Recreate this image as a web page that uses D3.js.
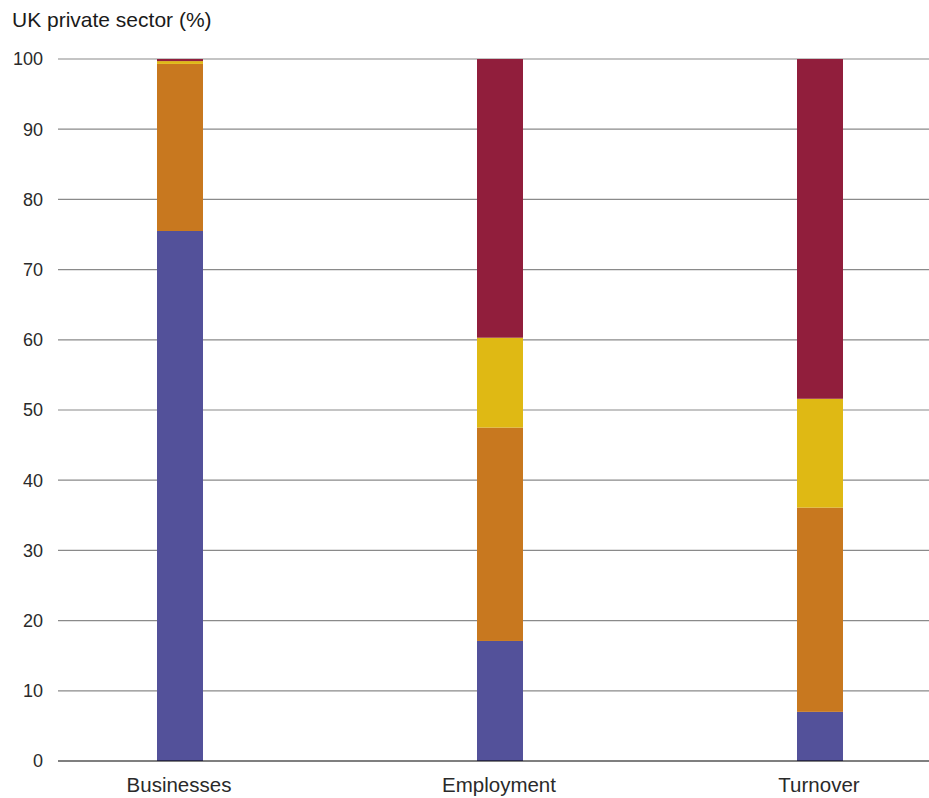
<!DOCTYPE html>
<html><head><meta charset="utf-8">
<script src="https://cdn.jsdelivr.net/npm/d3@7"></script>
<style>body{margin:0;background:#fff;} text{font-family:"Liberation Sans",Arial,sans-serif;}</style>
</head><body>
<svg id="c" width="929" height="798"></svg>
<script>
const categories = ["Businesses", "Employment", "Turnover"];
const seriesNames = ["Micro", "Small", "Medium", "Large"];
const micro  = [75.5, 17.1, 7.0];
const small  = [23.8, 30.4, 29.1];
const medium = [0.4, 12.8, 15.5];
const large  = [0.3, 39.7, 48.4];
const colors = ["#53519a", "#c8781f", "#dfb914", "#911e3c"];
const yTicks = [0,10,20,30,40,50,60,70,80,90,100];

const svg = d3.select("#c");
const y = d3.scaleLinear().domain([0,100]).range([761,59]);
const x = d3.scalePoint().domain(categories).range([180,820]);
const barW = 46;

// gridlines
svg.append("g").selectAll("line").data(yTicks.filter(d=>d>0)).join("line")
  .attr("x1",58).attr("x2",929).attr("y1",d=>y(d)).attr("y2",d=>y(d))
  .attr("stroke","#8a8a8a").attr("stroke-width",1.2);

// stacked data
const rows = categories.map((c,i)=>({cat:c, Micro:micro[i], Small:small[i], Medium:medium[i], Large:large[i]}));
const stack = d3.stack().keys(seriesNames)(rows);
svg.append("g").selectAll("g").data(stack).join("g")
  .attr("fill",(d,i)=>colors[i])
  .selectAll("rect").data(d=>d).join("rect")
  .attr("x",d=>x(d.data.cat)-barW/2).attr("width",barW)
  .attr("y",d=>y(d[1])).attr("height",d=>y(d[0])-y(d[1]));

// baseline
svg.append("line").attr("x1",58).attr("x2",929).attr("y1",y(0)).attr("y2",y(0))
  .attr("stroke","#000").attr("stroke-width",1.2);

// y tick labels
svg.append("g").selectAll("text").data(yTicks).join("text")
  .attr("x",43).attr("y",d=>y(d)).attr("dy","0.35em").attr("text-anchor","end")
  .attr("font-size",18).attr("fill","#2a2a2a").text(d=>d);

// x labels
svg.append("g").selectAll("text").data(categories).join("text")
  .attr("x",d=>x(d)-1).attr("y",792).attr("text-anchor","middle")
  .attr("font-size",20.5).attr("fill","#2a2a2a").text(d=>d);

// title
svg.append("text").attr("x",12).attr("y",27).attr("font-size",21).attr("fill","#1a1a1a")
  .text("UK private sector (%)");
</script>
</body></html>
